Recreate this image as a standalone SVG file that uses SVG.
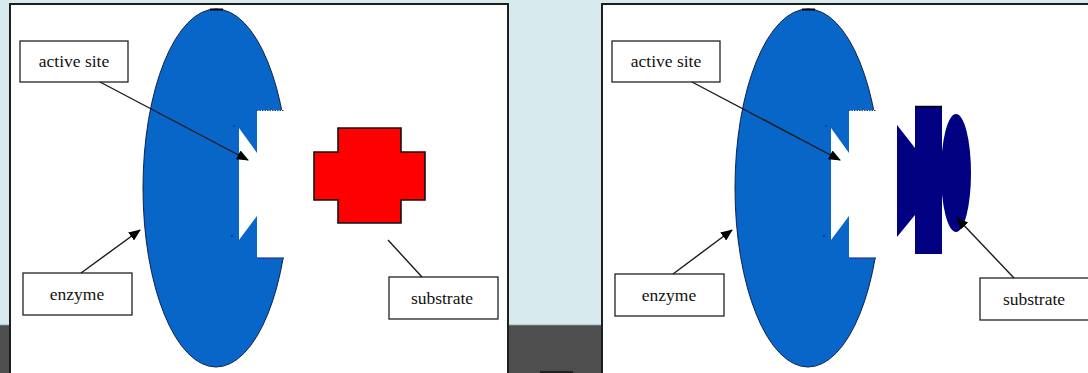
<svg xmlns="http://www.w3.org/2000/svg" width="1088" height="373" viewBox="0 0 1088 373">
  <style>
    .panel { fill: #ffffff; stroke: #1e1e1e; stroke-width: 2; }
    .enzyme { fill: #0866c9; stroke: #10204a; stroke-width: 1; }
    .label rect { fill: #ffffff; stroke: #222222; stroke-width: 1.3; }
    .label text { font-family: "Liberation Serif", "Times New Roman", serif; font-size: 17.5px; fill: #111111; text-anchor: middle; }
    .leader { stroke: #1a1a1a; stroke-width: 1.4; fill: none; }
    .arrow { marker-end: url(#tip); }
  </style>
  <defs>
    <marker id="tip" viewBox="0 0 12 10" refX="11" refY="5" markerWidth="12" markerHeight="10" markerUnits="userSpaceOnUse" orient="auto">
      <path d="M0,0 L12,5 L0,10 z" fill="#000"/>
    </marker>
    <!-- enzyme body with the active-site cavity cut out of its right side -->
    <g id="enzymeShape">
      <ellipse class="enzyme" cx="216" cy="188" rx="73" ry="179"/>
      <polygon points="300,110 257,110 257,153 239,128 239,240 257,216 257,258 300,258" fill="#ffffff"/>
      <line x1="257" y1="110.5" x2="284" y2="110.5" stroke="#203a8a" stroke-width="1" stroke-dasharray="1.5 1"/>
      <line x1="257" y1="258" x2="284" y2="258" stroke="#203a8a" stroke-width="1.2"/>
      <line x1="210" y1="9.5" x2="223" y2="9.5" stroke="#000" stroke-width="2"/>
      <circle cx="234" cy="126" r="0.9" fill="#1a2a5a"/>
      <circle cx="232" cy="236" r="0.9" fill="#1a2a5a"/>
    </g>
  </defs>

  <!-- backdrop -->
  <rect x="0" y="0" width="1088" height="325" fill="#d7ebee"/>
  <rect x="0" y="325" width="1088" height="48" fill="#4e4e4e"/>
  <line x1="0" y1="325" x2="1088" y2="325" stroke="#8aa0a0" stroke-width="0.8"/>
  <rect x="540" y="371" width="33" height="2" fill="#222"/>

  <!-- left panel: enzyme and free substrate -->
  <g id="panel-left">
    <rect class="panel" x="10" y="4" width="498" height="372"/>
    <g id="enzyme-left">
      <use href="#enzymeShape"/>
    </g>
    <g id="substrate-left">
      <polygon points="338,128 401,128 401,152 425,152 425,200 401,200 401,223 338,223 338,200 314,200 314,152 338,152" fill="#ff0000" stroke="#111" stroke-width="1.6"/>
    </g>
    <g id="label-active-left" class="label">
      <rect x="20" y="41" width="108" height="41"/>
      <text x="74" y="67">active site</text>
    </g>
    <g id="label-enzyme-left" class="label">
      <rect x="23" y="273" width="109" height="42"/>
      <text x="77" y="300">enzyme</text>
    </g>
    <g id="label-substrate-left" class="label">
      <rect x="389" y="277" width="109" height="42"/>
      <text x="442" y="304">substrate</text>
    </g>
  </g>

  <!-- right panel: enzyme and substrate about to bind -->
  <g id="panel-right">
    <rect class="panel" x="602" y="4" width="500" height="372"/>
    <g id="enzyme-right">
      <use href="#enzymeShape" x="592"/>
    </g>
    <g id="substrate-right">
      <ellipse cx="956" cy="173" rx="15" ry="59" fill="#000080"/>
      <polygon points="915,106 942,106 942,254 915,254 915,215 897,237 897,125 915,148" fill="#000080"/>
      <line x1="915" y1="106.5" x2="942" y2="106.5" stroke="#000" stroke-width="1.5"/>
    </g>
    <g id="label-active-right" class="label">
      <rect x="612" y="41" width="108" height="41"/>
      <text x="666" y="67">active site</text>
    </g>
    <g id="label-enzyme-right" class="label">
      <rect x="615" y="274" width="109" height="42"/>
      <text x="669" y="301">enzyme</text>
    </g>
    <g id="label-substrate-right" class="label">
      <rect x="980" y="278" width="110" height="42"/>
      <text x="1034" y="305">substrate</text>
    </g>
  </g>

  <!-- connectors -->
  <g id="connectors">
    <line class="leader arrow" x1="100" y1="82" x2="248" y2="160"/>
    <line class="leader arrow" x1="81" y1="273" x2="140" y2="230"/>
    <line class="leader" x1="422" y1="277" x2="388" y2="240"/>
    <line class="leader arrow" x1="692" y1="82" x2="840" y2="160"/>
    <line class="leader arrow" x1="673" y1="274" x2="732" y2="230"/>
    <line class="leader arrow" x1="1014" y1="278" x2="957" y2="218"/>
  </g>
</svg>
